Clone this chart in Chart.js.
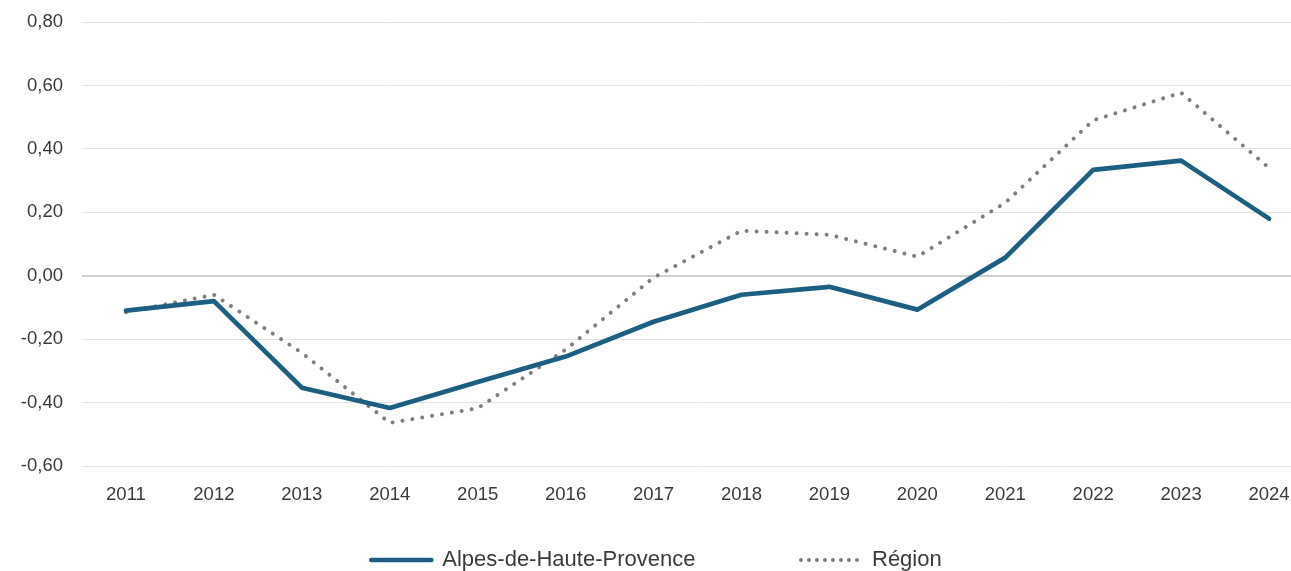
<!DOCTYPE html>
<html>
<head>
<meta charset="utf-8">
<script src="https://cdn.jsdelivr.net/npm/chart.js@4/dist/chart.umd.min.js"></script>
<style>
  html, body { margin: 0; padding: 0; background: #fff; overflow: hidden; }
  #wrap { position: relative; width: 1313px; height: 581px; }
</style>
</head>
<body>
<div id="wrap"><canvas id="c"></canvas></div>
<script>
const years = ['2011','2012','2013','2014','2015','2016','2017','2018','2019','2020','2021','2022','2023','2024'];
const alpesValues = [-0.11, -0.08, -0.353, -0.417, -0.335, -0.255, -0.145, -0.06, -0.035, -0.107, 0.057, 0.334, 0.363, 0.18];
const regionValues = [-0.115, -0.06, -0.243, -0.464, -0.418, -0.233, -0.006, 0.142, 0.129, 0.06, 0.23, 0.49, 0.577, 0.34];
const seriesNames = ['Alpes-de-Haute-Provence', 'Région'];
const yMin = -0.6, yMax = 0.8, yStep = 0.2;

const textColor = '#3a3a3a';
const tickFont = { family: 'Liberation Sans, Arial, sans-serif', size: 18.5 };

new Chart(document.getElementById('c'), {
  type: 'line',
  data: {
    labels: years,
    datasets: [
      {
        label: seriesNames[0],
        data: alpesValues,
        borderColor: '#1c5f80',
        backgroundColor: '#1c5f80',
        borderWidth: 4.7,
        pointRadius: 0,
        tension: 0,
        borderCapStyle: 'round',
        borderJoinStyle: 'round'
      },
      {
        label: seriesNames[1],
        data: regionValues,
        borderColor: '#7f7f7f',
        backgroundColor: 'rgba(0,0,0,0)',
        borderWidth: 4,
        borderDash: [0.01, 10],
        borderCapStyle: 'round',
        pointRadius: 0,
        tension: 0
      }
    ]
  },
  options: {
    responsive: true,
    maintainAspectRatio: false,
    animation: false,
    layout: { padding: { top: 22, right: 0, left: 0, bottom: 0 } },
    plugins: {
      tooltip: { enabled: false },
      legend: {
        position: 'bottom',
        labels: {
          color: textColor,
          font: { family: 'Liberation Sans, Arial, sans-serif', size: 22 },
          boxWidth: 60,
          boxHeight: 0,
          padding: 20,
          generateLabels: (chart) => {
            const items = Chart.defaults.plugins.legend.labels.generateLabels(chart);
            items[0].text = items[0].text + '\u00a0'.repeat(14);
            items[1].lineDash = [0.01, 15.99];
            return items;
          }
        }
      }
    },
    scales: {
      x: {
        offset: true,
        grid: { display: false, drawTicks: false },
        border: { display: false },
        ticks: { color: textColor, font: tickFont, padding: 18 },
        afterFit: (s) => { s.height = 63; }
      },
      y: {
        min: yMin,
        max: yMax,
        border: { display: false },
        grid: {
          drawTicks: false,
          color: (ctx) => (ctx.tick && Math.abs(ctx.tick.value) < 1e-9) ? '#d0d0d0' : '#e3e3e3',
          lineWidth: (ctx) => (ctx.tick && Math.abs(ctx.tick.value) < 1e-9) ? 2 : 1
        },
        ticks: {
          stepSize: yStep,
          color: textColor,
          font: tickFont,
          padding: 19,
          callback: (v) => Number(v).toFixed(2).replace('.', ',')
        },
        afterFit: (s) => { s.width = 82; s.paddingTop = 0; s.paddingBottom = 0; }
      }
    }
  }
});
</script>
</body>
</html>
